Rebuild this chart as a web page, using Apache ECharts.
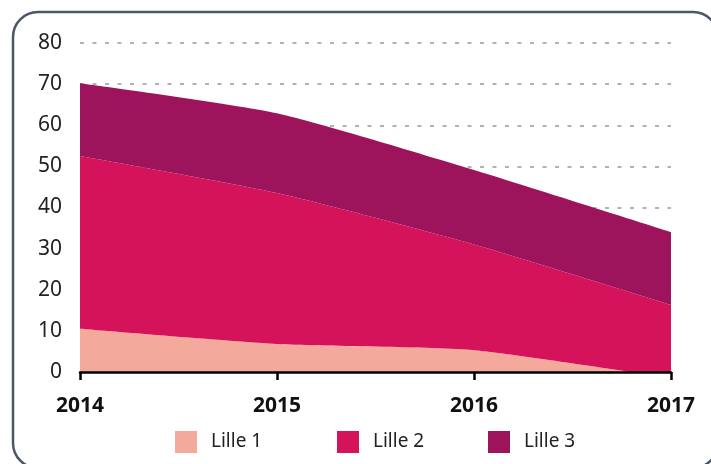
<!DOCTYPE html>
<html><head><meta charset="utf-8">
<script src="https://cdn.jsdelivr.net/npm/echarts@6/dist/echarts.min.js"></script>
<style>html,body{margin:0;padding:0;background:#fff}#c{width:711px;height:464px}</style>
</head><body><div id="c"></div>
<script>
var years = ['2014', '2015', '2016', '2017'];
var lille1 = [10.5, 6.8, 5.3, -1.5];
var lille2 = [42.0, 36.7, 25.7, 17.8];
var lille3 = [17.7, 19.4, 18.1, 17.7];
var seriesNames = ['Lille 1', 'Lille 2', 'Lille 3'];
var colors = ['#f3aa9d', '#d5135b', '#9e145c'];
var yTicks = [0, 10, 20, 30, 40, 50, 60, 70, 80];

var chart = echarts.init(document.getElementById('c'), null, {renderer: 'canvas'});
var font = 'Noto Sans';
function mk(name, data, i) {
  return {
    name: name, type: 'line', stack: 'total', stackStrategy: 'all',
    data: data, smooth: 0.2, showSymbol: false, symbol: 'none',
    lineStyle: {width: 0}, areaStyle: {color: colors[i], opacity: 1},
    itemStyle: {color: colors[i]}, z: 2 + i
  };
}
var legendLefts = [175, 337, 488];
function lg(i) {
  return {
    data: [seriesNames[i]], top: 431, left: legendLefts[i], icon: 'rect',
    itemWidth: 22, itemHeight: 22, padding: 0,
    textStyle: {fontFamily: font, fontSize: 19, color: '#222', padding: [0, 0, 0, 9]}
  };
}
chart.setOption({
  animation: false,
  graphic: [{
    type: 'rect', shape: {x: 13, y: 12, width: 705, height: 456, r: 25},
    style: {fill: 'none', stroke: '#4d5666', lineWidth: 2.5}, z: 0
  }],
  grid: {left: 80, right: 40, top: 43, bottom: 92, containLabel: false},
  legend: [lg(0), lg(1), lg(2)],
  xAxis: {
    type: 'category', data: years, boundaryGap: false,
    axisLine: {lineStyle: {color: '#000', width: 2.5}},
    axisTick: {show: true, length: 8, lineStyle: {color: '#000', width: 2.5}},
    axisLabel: {fontFamily: font, fontSize: 21, fontWeight: 'bold', color: '#111', margin: 24},
    z: 10
  },
  yAxis: {
    type: 'value', min: yTicks[0], max: yTicks[yTicks.length - 1], interval: 10,
    axisLine: {show: false}, axisTick: {show: false},
    axisLabel: {fontFamily: font, fontSize: 21, color: '#222', margin: 18},
    splitLine: {lineStyle: {color: '#999', type: [4, 8.5], width: 1.5}}
  },
  series: [mk(seriesNames[0], lille1, 0), mk(seriesNames[1], lille2, 1), mk(seriesNames[2], lille3, 2)]
});
</script></body></html>
